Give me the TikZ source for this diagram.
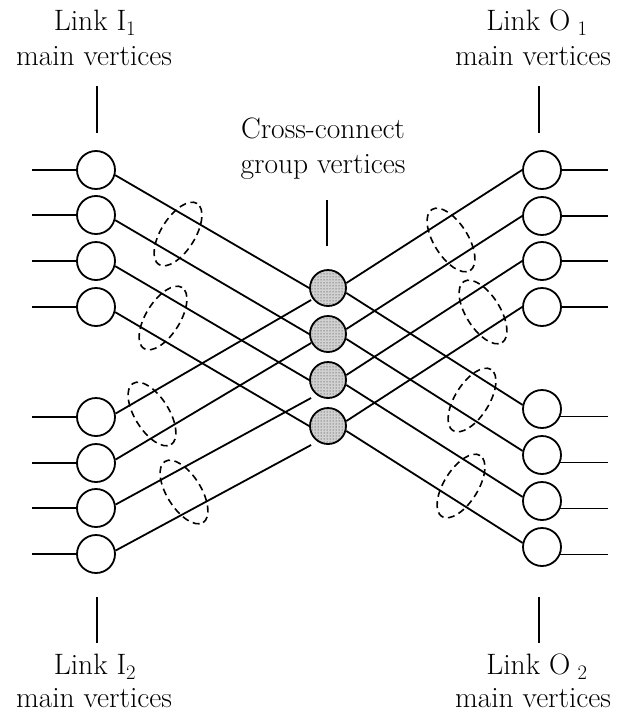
\documentclass[tikz,border=0pt]{standalone}
\usepackage{fontspec}
\usetikzlibrary{patterns,calc}
\tikzset{
  lbl/.style={font=\fontsize{29.5}{34}\selectfont, inner sep=0pt, anchor=base},
  wv/.style={circle, draw, line width=1.8pt, fill=white, minimum size=38pt, inner sep=0pt},
  gv/.style={circle, draw, line width=1.8pt, fill=black!18, postaction={pattern=dots, pattern color=black!85}, minimum size=36pt, inner sep=0pt},
  ln/.style={line width=1.8pt},
  ell/.style={line width=1.6pt, dash pattern=on 7pt off 4.5pt},
}
\begin{document}
\begin{tikzpicture}[x=1pt,y=-1pt]
\useasboundingbox (0,0) rectangle (619,715);
% labels
\node[lbl] (tI1) at (95,30) {Link I\textsubscript{1}};
\node[lbl] (tI1m) at (94,65) {main vertices};
\node[lbl] (tO1) at (537,30) {Link O\hspace{0.25em}\textsubscript{1}};
\node[lbl] (tO1m) at (533,65) {main vertices};
\node[lbl] (tC) at (323,138) {Cross-connect};
\node[lbl] (tCm) at (323,173) {group vertices};
\node[lbl] (tI2) at (95,674) {Link I\textsubscript{2}};
\node[lbl] (tI2m) at (94,707) {main vertices};
\node[lbl] (tO2) at (537,674) {Link O\hspace{0.25em}\textsubscript{2}};
\node[lbl] (tO2m) at (533,707) {main vertices};
% ticks
\coordinate (v1a) at (97,86);  \coordinate (v1b) at (97,133);
\coordinate (v2a) at (539,86); \coordinate (v2b) at (539,133);
\coordinate (v3a) at (327,200); \coordinate (v3b) at (327,246);
\coordinate (v4a) at (97,597); \coordinate (v4b) at (97,643);
\coordinate (v5a) at (539,597); \coordinate (v5b) at (539,643);
\draw[ln] (v1a) -- (v1b);
\draw[ln] (v2a) -- (v2b);
\draw[ln] (v3a) -- (v3b);
\draw[ln] (v4a) -- (v4b);
\draw[ln] (v5a) -- (v5b);
% vertices
\node[wv] (L1) at (96,170) {};
\node[wv] (L2) at (96,215) {};
\node[wv] (L3) at (96,261) {};
\node[wv] (L4) at (96,307) {};
\node[wv] (B1) at (96,417) {};
\node[wv] (B2) at (96,463) {};
\node[wv] (B3) at (96,508) {};
\node[wv] (B4) at (96,554) {};
\node[wv] (R1) at (542,170) {};
\node[wv] (R2) at (542,216) {};
\node[wv] (R3) at (542,261) {};
\node[wv] (R4) at (542,307) {};
\node[wv] (S1) at (542,409) {};
\node[wv] (S2) at (542,455) {};
\node[wv] (S3) at (542,501) {};
\node[wv] (S4) at (542,547) {};
\node[gv] (G1) at (328,288) {};
\node[gv] (G2) at (328,334) {};
\node[gv] (G3) at (328,380) {};
\node[gv] (G4) at (328,426) {};
% outer stubs
\coordinate (lx) at (32,0);
\coordinate (rx) at (608,0);
\foreach \n in {L1,L2,L3,L4,B1,B2,B3,B4}{
  \draw[ln] (\n.west -| lx) -- (\n.west);
}
\foreach \n in {R1,R2,R3,R4}{
  \draw[ln] (\n.east) -- (\n.east -| rx);
}
\foreach \n in {S1,S2,S3,S4}{
  \draw[ln] (\n.-22) -- (\n.-22 -| rx);
}
% links
\foreach \k in {1,2,3,4}{
  \draw[ln] (L\k.-15) -- (G\k.west);
  \draw[ln] (G\k.15) -- (R\k.west);
  \draw[ln] (G\k.-15) -- (S\k.168);
}
\draw[ln] (B1.10) -- ($(G1.west)+(2,12)$);
\draw[ln] (B2.10) -- ($(G2.west)+(2,9)$);
\draw[ln] (B3.10) -- ($(G3.west)+(2,18)$);
\draw[ln] (B4.10) -- ($(G4.west)+(2,19)$);
% bundles
\draw[ell, shift={(178,234)}, rotate=58] (0,0) ellipse [x radius=36pt, y radius=17pt];
\draw[ell, shift={(163,318)}, rotate=58] (0,0) ellipse [x radius=36pt, y radius=17pt];
\draw[ell, shift={(152,414)}, rotate=-58] (0,0) ellipse [x radius=36pt, y radius=17pt];
\draw[ell, shift={(184,492)}, rotate=-58] (0,0) ellipse [x radius=36pt, y radius=17pt];
\draw[ell, shift={(451,240)}, rotate=-58] (0,0) ellipse [x radius=36pt, y radius=17pt];
\draw[ell, shift={(483,312)}, rotate=-58] (0,0) ellipse [x radius=36pt, y radius=17pt];
\draw[ell, shift={(472,400)}, rotate=58] (0,0) ellipse [x radius=36pt, y radius=17pt];
\draw[ell, shift={(461,486)}, rotate=58] (0,0) ellipse [x radius=36pt, y radius=17pt];
\end{tikzpicture}
\end{document}
